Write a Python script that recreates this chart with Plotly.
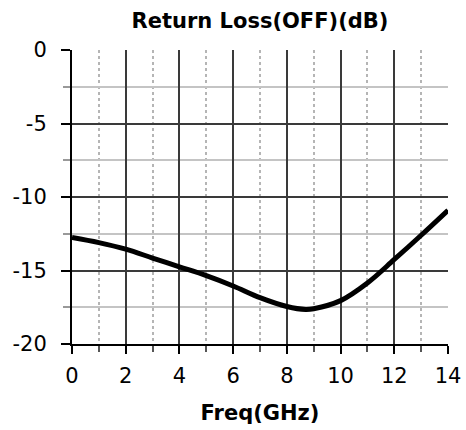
import plotly.graph_objects as go

freq_ghz = [0, 1, 2, 3, 4, 5, 6, 7, 8, 8.7, 9, 10, 11, 12, 13, 14]
return_loss_db = [-12.75, -13.1, -13.55, -14.15, -14.75, -15.35, -16.05, -16.85,
                  -17.45, -17.65, -17.6, -17.05, -15.85, -14.25, -12.6, -10.9]

x_ticks = [0, 2, 4, 6, 8, 10, 12, 14]
y_ticks = [0, -5, -10, -15, -20]

font = "DejaVu Sans, Verdana, sans-serif"

fig = go.Figure()
fig.add_trace(go.Scatter(
    x=freq_ghz, y=return_loss_db, mode="lines",
    line=dict(color="black", width=5, shape="spline", smoothing=1.0),
    showlegend=False, hoverinfo="skip",
))

fig.update_layout(
    width=466, height=430,
    margin=dict(l=72, r=18, t=50, b=86, autoexpand=False),
    paper_bgcolor="white", plot_bgcolor="white",
    title=dict(text="<b>Return Loss(OFF)(dB)</b>", xref="paper", x=0.5, xanchor="center",
               yref="container", y=0.952, yanchor="middle",
               font=dict(family=font, size=21, color="black")),
    font=dict(family=font, size=21, color="black"),
)

fig.update_xaxes(
    range=[0, 14], tickvals=x_ticks, ticktext=[str(v) for v in x_ticks],
    automargin=False,
    showline=True, linecolor="black", linewidth=2,
    showgrid=True, gridcolor="#3a3a3a", gridwidth=1.5,
    ticks="outside", ticklen=8, tickcolor="black", tickwidth=1.5,
    ticklabelstandoff=4,
    zeroline=False,
    minor=dict(dtick=1, showgrid=True, griddash="dot", gridcolor="#b5b5b5",
               gridwidth=1.5, ticks="outside", ticklen=6, tickcolor="#555555"),
    title=dict(text="<b>Freq(GHz)</b>", font=dict(family=font, size=21), standoff=18),
    tickfont=dict(family=font, size=21),
)

fig.update_yaxes(
    range=[-20, 0], tickvals=y_ticks, ticktext=[str(v) for v in y_ticks],
    automargin=False,
    showline=True, linecolor="black", linewidth=2,
    showgrid=True, gridcolor="#3a3a3a", gridwidth=1.5,
    ticks="outside", ticklen=9, tickcolor="black", tickwidth=1.5,
    ticklabelstandoff=10,
    zeroline=False,
    minor=dict(dtick=2.5, showgrid=True, gridcolor="#c4c4c4", gridwidth=1.5,
               ticks="outside", ticklen=7, tickcolor="#999999"),
    tickfont=dict(family=font, size=21),
)

fig.write_html(
    "out.html",
    config={"displayModeBar": False},
    post_script="document.body.style.margin='0';document.body.style.overflow='hidden';",
)
